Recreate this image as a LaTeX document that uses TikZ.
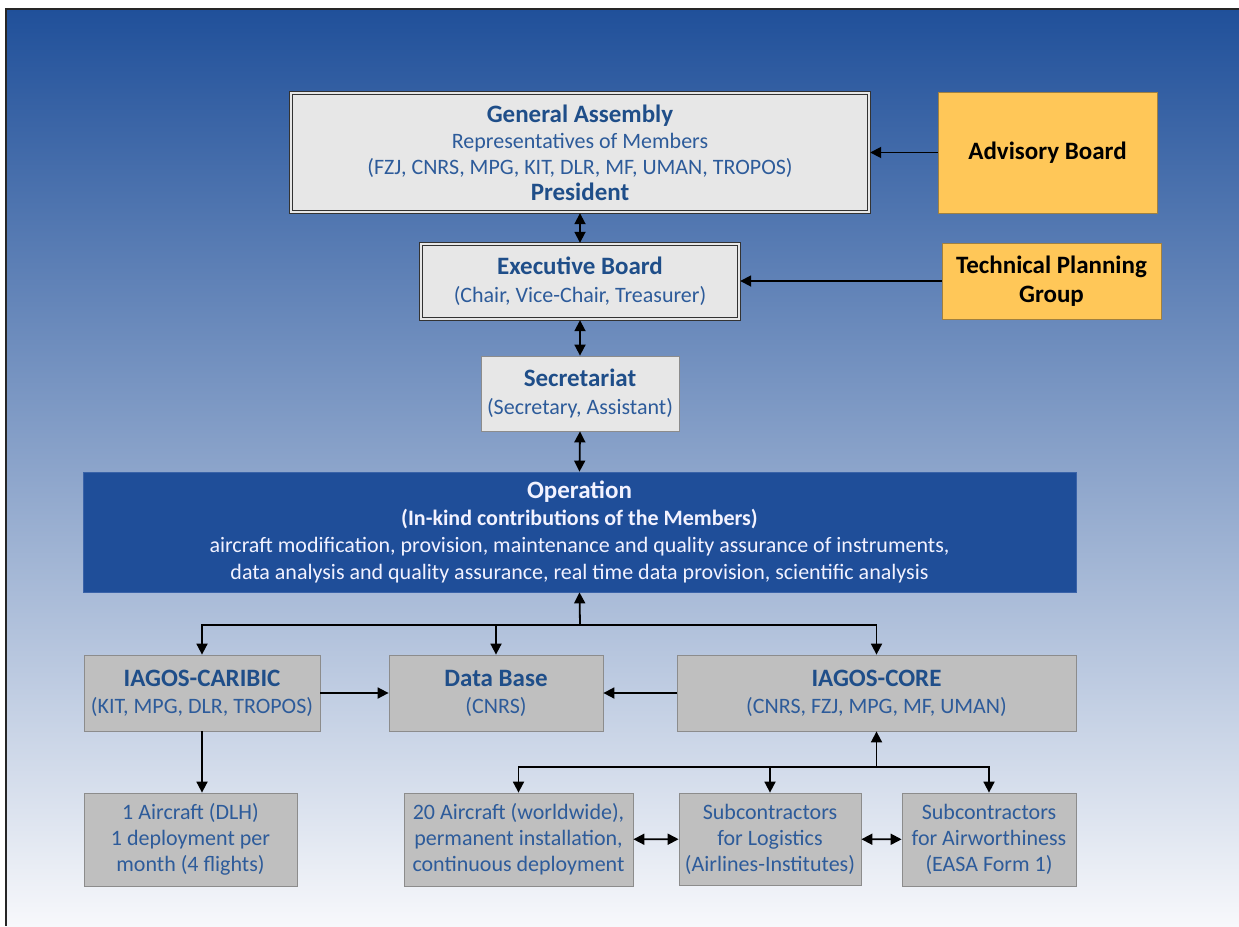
\documentclass[tikz,border=0pt]{standalone}
\usepackage{fontspec}
\setmainfont{Carlito}
\usetikzlibrary{arrows.meta}
\definecolor{bgtop}{HTML}{20509A}
\definecolor{bgmid}{HTML}{8BA5CE}
\definecolor{bgbot}{HTML}{F7F8FB}
\definecolor{lightbox}{HTML}{E7E7E7}
\definecolor{greybox}{HTML}{BFBFBF}
\definecolor{greyline}{HTML}{8C8C8C}
\definecolor{orangebox}{HTML}{FFC758}
\definecolor{orangeline}{HTML}{A08040}
\definecolor{opblue}{HTML}{1F4E99}
\definecolor{opline}{HTML}{3A63A8}
\definecolor{titleblue}{HTML}{1F4E89}
\definecolor{bodyblue}{HTML}{2D5B9A}
\tikzset{
  base/.style={inner sep=0pt, align=center, font=\fontsize{22}{26}\selectfont},
  dbox/.style={base, fill=lightbox, text=bodyblue},
  dframe/.style={draw=black!80, line width=0.9pt},
  lbox/.style={base, fill=lightbox, draw=greyline, line width=0.8pt, text=bodyblue},
  gbox/.style={base, fill=greybox, draw=greyline, line width=0.8pt, text=bodyblue},
  obox/.style={base, fill=orangebox, draw=orangeline, line width=0.8pt, text=black, font=\fontsize{25}{29}\selectfont\bfseries},
  opbox/.style={base, fill=opblue, draw=opline, line width=0.8pt, text=white!95!blue, font=\fontsize{22}{27}\selectfont},
  arr/.style={-{Triangle[length=11pt,width=11pt]}, line width=1.8pt, black},
  darr/.style={{Triangle[length=11pt,width=11pt]}-{Triangle[length=11pt,width=11pt]}, line width=1.8pt, black}
}
\newcommand{\ttl}[1]{{\fontsize{25}{26}\selectfont\bfseries\color{titleblue}#1}}
\begin{document}
\begin{tikzpicture}[x=1pt,y=-1pt]
\useasboundingbox (0,0) rectangle (1239,926);
\fill[white] (0,0) rectangle (1239,926);
\shade[top color=bgtop, middle color=bgmid, bottom color=bgbot] (6,9) rectangle (1239,926);
\draw[line width=2.2pt, black!85] (6,926) -- (6,9) -- (1239,9);

% nodes
\node[dbox, minimum width=580pt, minimum height=121pt] (ga) at (580,152.5)
  {\ttl{General Assembly}\\ Representatives of Members\\ (FZJ, CNRS, MPG, KIT, DLR, MF, UMAN, TROPOS)\\ \ttl{President}};
\draw[dframe] (ga.north west) rectangle (ga.south east);
\draw[dframe] ([shift={(3,3)}]ga.north west) rectangle ([shift={(-3,-3)}]ga.south east);
\node[obox, minimum width=219pt, minimum height=121pt] (adv) at (1047.5,152.5) {Advisory Board};
\node[dbox, minimum width=320pt, minimum height=77pt, font=\fontsize{22}{28}\selectfont] (eb) at (580,281.5)
  {\ttl{Executive Board}\\ (Chair, Vice-Chair, Treasurer)};
\draw[dframe] (eb.north west) rectangle (eb.south east);
\draw[dframe] ([shift={(3,3)}]eb.north west) rectangle ([shift={(-3,-3)}]eb.south east);
\node[obox, minimum width=219pt, minimum height=76pt] (tpg) at (1051.5,281) {Technical Planning\\ Group};
\node[lbox, minimum width=198pt, minimum height=75pt, font=\fontsize{22}{28}\selectfont] (sec) at (580,393.5)
  {\ttl{Secretariat}\\ (Secretary, Assistant)};
\node[opbox, minimum width=993pt, minimum height=120pt] (op) at (579.5,532)
  {{\fontsize{25}{27}\selectfont\bfseries Operation}\\ {\fontsize{22}{27}\selectfont\bfseries (In-kind contributions of the Members)}\\
   aircraft modification, provision, maintenance and quality assurance of instruments,\\
   data analysis and quality assurance, real time data provision, scientific analysis};
\node[gbox, minimum width=236pt, minimum height=76pt, font=\fontsize{22}{27}\selectfont] (car) at (202,693)
  {\ttl{IAGOS-CARIBIC}\\ (KIT, MPG, DLR, TROPOS)};
\node[gbox, minimum width=214pt, minimum height=76pt, font=\fontsize{22}{27}\selectfont] (db) at (496,693)
  {\ttl{Data Base}\\ (CNRS)};
\node[gbox, minimum width=399pt, minimum height=76pt, font=\fontsize{22}{27}\selectfont] (core) at (876.5,693)
  {\ttl{IAGOS-CORE}\\ (CNRS, FZJ, MPG, MF, UMAN)};
\node[gbox, minimum width=213pt, minimum height=93pt] (ac1) at (190.5,839.5)
  {1 Aircraft (DLH)\\ 1 deployment per\\ month (4 flights)};
\node[gbox, minimum width=229pt, minimum height=93pt] (ac20) at (518.5,839.5)
  {20 Aircraft (worldwide),\\ permanent installation,\\ continuous deployment};
\node[gbox, minimum width=182pt, minimum height=92pt] (log) at (770,839)
  {Subcontractors\\ for Logistics\\ (Airlines-Institutes)};
\node[gbox, minimum width=174pt, minimum height=93pt] (air) at (989,839.5)
  {Subcontractors\\ for Airworthiness\\ (EASA Form 1)};

% connectors
\draw[arr] (adv) -- (ga);
\draw[darr] (ga.south) -- (eb.north);
\draw[arr] (tpg.west) -- (tpg.west -| eb.east);
\draw[darr] (eb.south) -- (sec.north);
\draw[darr] (sec.south) -- (op.north);

\coordinate (j1) at (580,625);
\draw[arr] (j1) -- (op.south);
\draw[arr] (j1) -| (car.north);
\draw[arr] (j1) -| (db.north);
\draw[arr] (j1) -| (core.north);
\draw[arr] (car) -- (db);
\draw[arr] (core) -- (db);
\draw[arr] (car.south) -- (car.south |- ac1.north);

\coordinate (j2) at (876.5,767);
\draw[arr] (j2) -- (core.south);
\draw[arr] (j2) -| (ac20.north);
\draw[arr] (j2) -| (log.north);
\draw[arr] (j2) -| (air.north);
\draw[darr] (ac20) -- (log);
\draw[darr] (log) -- (air);
\end{tikzpicture}
\end{document}
